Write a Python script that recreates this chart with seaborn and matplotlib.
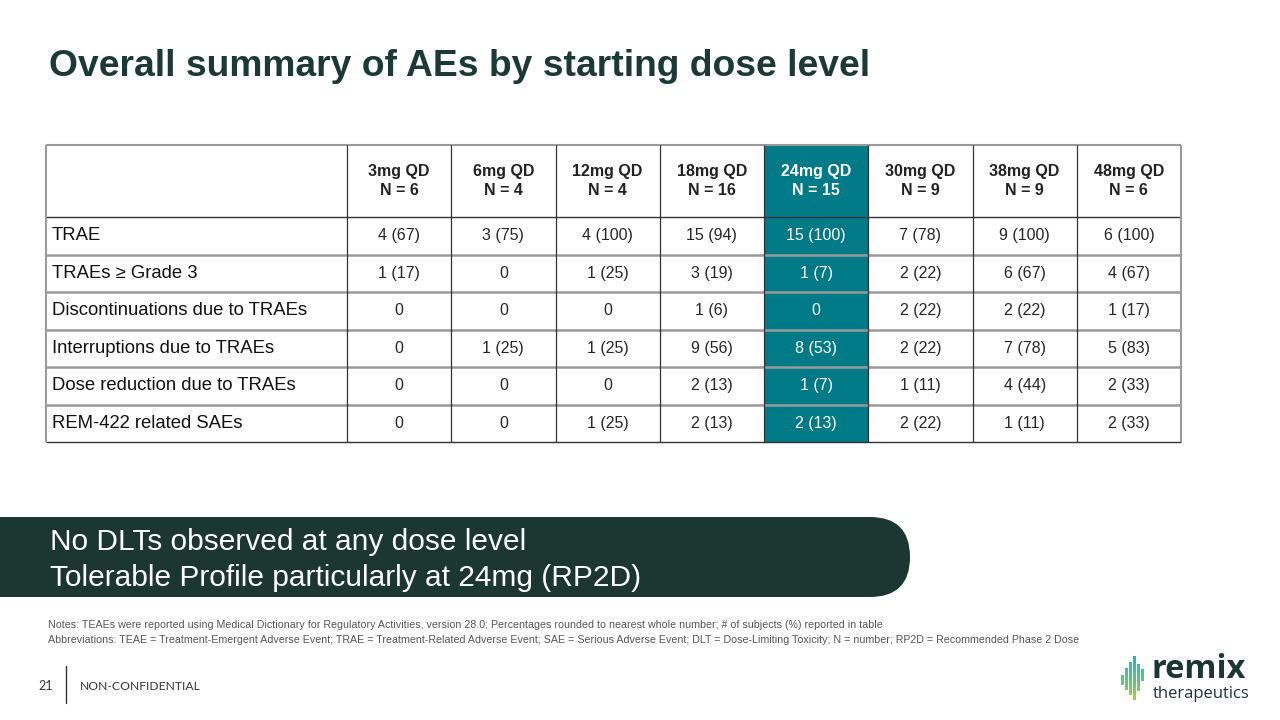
import numpy as np
import pandas as pd
import seaborn as sns
import matplotlib.pyplot as plt
from matplotlib.colors import ListedColormap, LinearSegmentedColormap
from matplotlib.patches import Rectangle, FancyBboxPatch

# table data
doses = ['3mg QD', '6mg QD', '12mg QD', '18mg QD', '24mg QD', '30mg QD', '38mg QD', '48mg QD']
n_subjects = [6, 4, 4, 16, 15, 9, 9, 6]
rp2d_dose = '24mg QD'

ae_rows = ['TRAE', 'TRAEs \u2265 Grade 3', 'Discontinuations due to TRAEs',
           'Interruptions due to TRAEs', 'Dose reduction due to TRAEs', 'REM-422 related SAEs']

trae_n = [4, 3, 4, 15, 15, 7, 9, 6]
trae_pct = [67, 75, 100, 94, 100, 78, 100, 100]
grade3_n = [1, 0, 1, 3, 1, 2, 6, 4]
grade3_pct = [17, 0, 25, 19, 7, 22, 67, 67]
disc_n = [0, 0, 0, 1, 0, 2, 2, 1]
disc_pct = [0, 0, 0, 6, 0, 22, 22, 17]
interr_n = [0, 1, 1, 9, 8, 2, 7, 5]
interr_pct = [0, 25, 25, 56, 53, 22, 78, 83]
dosered_n = [0, 0, 0, 2, 1, 1, 4, 2]
dosered_pct = [0, 0, 0, 13, 7, 11, 44, 33]
sae_n = [0, 0, 1, 2, 2, 2, 1, 2]
sae_pct = [0, 0, 25, 13, 13, 22, 11, 33]

counts = [trae_n, grade3_n, disc_n, interr_n, dosered_n, sae_n]
pcts = [trae_pct, grade3_pct, disc_pct, interr_pct, dosered_pct, sae_pct]

labels = np.array([[f'{c} ({p})' if c else '0' for c, p in zip(cr, pr)]
                   for cr, pr in zip(counts, pcts)])
highlight = pd.DataFrame([[1 if d == rp2d_dose else 0 for d in doses] for _ in ae_rows],
                         index=ae_rows, columns=doses)

teal = '#007A87'
dark = '#1c3632'
font = ['Liberation Sans', 'DejaVu Sans']

sns.set_theme(style='white')
plt.rcParams['font.family'] = font

W, H = 1280, 720
fig = plt.figure(figsize=(W / 100, H / 100), dpi=100)

# background axes in pixel coordinates
bg = fig.add_axes([0, 0, 1, 1])
bg.set_xlim(0, W)
bg.set_ylim(H, 0)
bg.set_axis_off()

bg.text(49, 67, 'Overall summary of AEs by starting dose level', fontsize=26.8,
        fontweight='bold', color='#1b3a35', va='center', ha='left')

# banner
bg.add_patch(FancyBboxPatch((-80, 517), 990, 80, boxstyle='round,pad=0,rounding_size=40',
                            facecolor=dark, edgecolor='none'))
bg.text(50, 542, 'No DLTs observed at any dose level', fontsize=21.5, color='white',
        va='center', ha='left')
bg.text(50, 578, 'Tolerable Profile particularly at 24mg (RP2D)', fontsize=21.5, color='white',
        va='center', ha='left')

# notes
bg.text(48, 625, 'Notes: TEAEs were reported using Medical Dictionary for Regulatory Activities, version 28.0; '
        'Percentages rounded to nearest whole number; # of subjects (%) reported in table',
        fontsize=7.7, color='#555555', va='center', ha='left')
bg.text(48, 640, 'Abbreviations: TEAE = Treatment-Emergent Adverse Event; TRAE = Treatment-Related Adverse Event; '
        'SAE = Serious Adverse Event; DLT = Dose-Limiting Toxicity; N = number; RP2D = Recommended Phase 2 Dose',
        fontsize=7.7, color='#555555', va='center', ha='left')

# footer
bg.text(38, 686, '21', fontsize=9, color='#333333', va='center', ha='left', family=['Lato', 'DejaVu Sans'])
bg.plot([66, 66], [666, 703], color='#333333', lw=1)
bg.text(80, 686, 'NON-CONFIDENTIAL', fontsize=8.7, color='#333333', va='center', ha='left',
        family=['Lato', 'DejaVu Sans'])

# logo
grad = LinearSegmentedColormap.from_list('logo', ['#1fb6c9', '#56c58a', '#a3d33c'])
bars = [(1122, 675, 685), (1126, 668, 690), (1130, 662, 695), (1134, 656, 700),
        (1138, 664, 691), (1142, 669, 681)]
for bx, top, bot in bars:
    g = np.linspace((top - 656) / 44, (bot - 656) / 44, 30).reshape(-1, 1)
    bg.imshow(g, cmap=grad, vmin=0, vmax=1, extent=(bx - 1.3, bx + 1.3, bot, top),
              aspect='auto', interpolation='bilinear')
bg.set_xlim(0, W)
bg.set_ylim(H, 0)
bg.text(1151, 669, 'remix', fontsize=23.5, fontweight='bold', color=dark, va='center', ha='left',
        family=['Open Sans', 'DejaVu Sans'])
bg.text(1153, 694, 'therapeutics', fontsize=12, color=dark, va='center', ha='left',
        family=['Open Sans', 'DejaVu Sans'])

# table axes: data cells
x0, x1, y_top, y0, y1 = 347, 1181, 145, 217, 442
ax = fig.add_axes([x0 / W, 1 - y1 / H, (x1 - x0) / W, (y1 - y0) / H])
sns.heatmap(highlight, cmap=ListedColormap(['white', teal]), vmin=0, vmax=1, cbar=False,
            annot=labels, fmt='', annot_kws={'fontsize': 11.5}, xticklabels=False,
            yticklabels=False, ax=ax)
ax.set_xlabel('')
ax.set_ylabel('')

cw = (x1 - x0) / len(doses)
rh = (y1 - y0) / len(ae_rows)
hdr = (y0 - y_top) / rh
lab = (x0 - 46) / cw

for j, (d, n) in enumerate(zip(doses, n_subjects)):
    hl = d == rp2d_dose
    if hl:
        ax.add_patch(Rectangle((j, -hdr), 1, hdr, facecolor=teal, edgecolor='none', clip_on=False))
    ax.text(j + 0.5, -hdr / 2, f'{d}\nN = {n}', ha='center', va='center', fontsize=11.5,
            fontweight='bold', color='white' if hl else '#222222', linespacing=1.35, clip_on=False)

for i, r in enumerate(ae_rows):
    ax.text(-lab + 6 / cw, i + 0.5, r, ha='left', va='center', fontsize=13.3, color='#111111',
            clip_on=False)

# grid lines
grey, ink = '#9a9a9a', '#333333'
ax.hlines([-hdr], -lab, len(doses), color=grey, lw=1.5, clip_on=False)
ax.hlines([0, len(ae_rows)], -lab, len(doses), color=ink, lw=1.0, clip_on=False)
ax.hlines(range(1, len(ae_rows)), -lab, len(doses), color=grey, lw=1.8, clip_on=False)
ax.vlines(range(0, len(doses)), -hdr, len(ae_rows), color=ink, lw=0.9, clip_on=False)
ax.vlines([-lab, len(doses)], -hdr, len(ae_rows), color=grey, lw=1.5, clip_on=False)

fig.savefig('out.png', dpi=100)
